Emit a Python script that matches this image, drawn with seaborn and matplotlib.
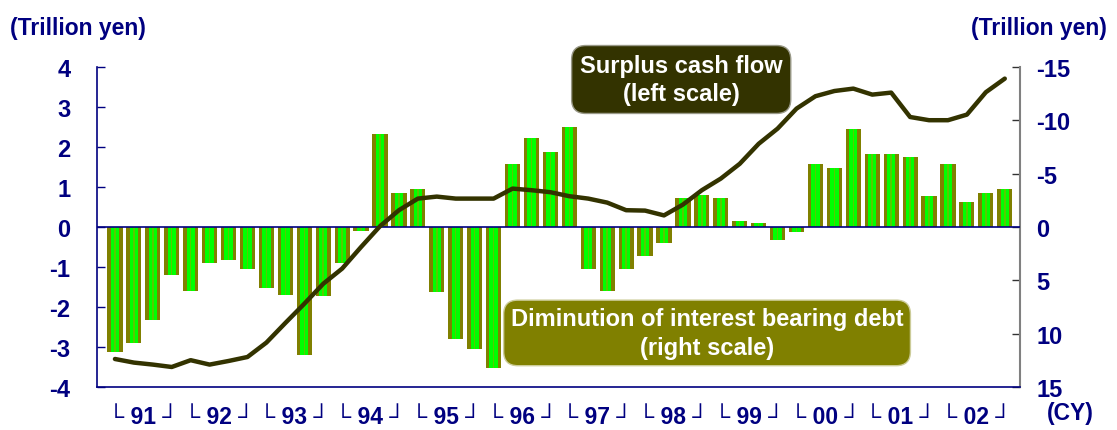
import numpy as np
import pandas as pd
import matplotlib
matplotlib.use("Agg")
import matplotlib.pyplot as plt
import seaborn as sns

# ---------------- data ----------------
years = ["91", "92", "93", "94", "95", "96", "97", "98", "99", "00", "01", "02"]
quarters = [f"{y}Q{q}" for y in years for q in range(1, 5)]

# Surplus cash flow (left scale, trillion yen)
surplus_cf = [-3.30, -3.39, -3.44, -3.50,
              -3.33, -3.44, -3.35, -3.25,
              -2.89, -2.40, -1.92, -1.42,
              -1.04, -0.50, 0.02, 0.42,
              0.71, 0.76, 0.71, 0.71,
              0.71, 0.96, 0.92, 0.87,
              0.77, 0.71, 0.61, 0.42,
              0.41, 0.29, 0.56, 0.92,
              1.21, 1.58, 2.08, 2.46,
              2.96, 3.27, 3.40, 3.46,
              3.31, 3.36, 2.75, 2.67,
              2.67, 2.81, 3.37, 3.71]

# Diminution of interest bearing debt (right scale, inverted axis, trillion yen)
debt_dim = [11.7, 10.9, 8.7, 4.5,
            6.0, 3.4, 3.1, 3.9,
            5.7, 6.4, 12.0, 6.5,
            3.4, 0.4, -8.7, -3.2,
            -3.6, 6.1, 10.5, 11.4,
            13.2, -5.9, -8.3, -7.0,
            -9.4, 3.9, 6.0, 3.9,
            2.7, 1.5, -2.7, -3.0,
            -2.7, -0.6, -0.4, 1.2,
            0.5, -5.9, -5.5, -9.2,
            -6.8, -6.8, -6.6, -2.9,
            -5.9, -2.3, -3.2, -3.6]

left_ticks = [-4, -3, -2, -1, 0, 1, 2, 3, 4]
right_ticks = [-15, -10, -5, 0, 5, 10, 15]
year_labels = [f"\u2514 {y} \u2518" for y in years]

df = pd.DataFrame({"quarter": quarters, "debt": debt_dim,
                   "pos": np.arange(len(quarters)), "surplus": surplus_cf})

# ---------------- style ----------------
sns.set_style("white")
plt.rcParams["font.family"] = ["Liberation Sans", "DejaVu Sans"]
plt.rcParams["axes.unicode_minus"] = False

NAVY = "#000080"
OLIVE = "#808000"
GREEN = "#00FF00"
DARK = "#333300"

fig = plt.figure(figsize=(11.17, 4.31), dpi=100)
ax = fig.add_axes([0.0868, 0.0998, 0.8263, 0.7424])
ax2 = ax.twinx()

# bars (right scale)
sns.barplot(data=df, x="quarter", y="debt", ax=ax2, color=OLIVE, saturation=1,
            width=0.8, errorbar=None, edgecolor="none")
sns.barplot(data=df, x="quarter", y="debt", ax=ax2, color=GREEN, saturation=1,
            width=0.44, errorbar=None, edgecolor="none")
sns.barplot(data=df, x="quarter", y="debt", ax=ax2, color="#55CC00", saturation=1,
            width=0.08, errorbar=None, edgecolor="none")
ax2.set_ylim(15, -15)
ax2.set_yticks(right_ticks)
ax2.set_ylabel("")
ax2.set_xlabel("")

# line (left scale)
sns.lineplot(data=df, x="pos", y="surplus", ax=ax, color=DARK, linewidth=3.2)
ax.axhline(0, color=NAVY, linewidth=1.2, zorder=1)
ax.set_ylim(-4, 4)
ax.set_yticks(left_ticks)
ax.set_xlim(-0.95, 47.8)
ax.set_xticks(np.arange(1.5, 48, 4))
ax.set_xticklabels(year_labels)
ax.set_xlabel("")
ax.set_ylabel("")

ax.set_zorder(ax2.get_zorder() + 1)
ax.patch.set_visible(False)

# spines
for s in ["top", "right"]:
    ax.spines[s].set_visible(False)
for s in ["left", "bottom"]:
    ax.spines[s].set_color(NAVY)
    ax.spines[s].set_linewidth(1.2)
for s in ["top", "left", "bottom"]:
    ax2.spines[s].set_visible(False)
ax2.spines["right"].set_color("#808080")
ax2.spines["right"].set_linewidth(1.5)

ax.tick_params(axis="y", direction="in", length=6, width=1, color=NAVY,
               labelsize=17, labelcolor=NAVY, pad=19, left=True)
ax.tick_params(axis="x", length=0, labelsize=16.5, labelcolor=NAVY, pad=13)
ax2.tick_params(axis="y", direction="in", length=6, width=1, color="#333333",
                labelsize=17, labelcolor=NAVY, pad=12, right=True)
for lab in ax.get_yticklabels() + ax.get_xticklabels() + ax2.get_yticklabels():
    lab.set_fontweight("bold")

# annotation boxes
ax.text(0.633, 0.961, "Surplus cash flow\n(left scale)", transform=ax.transAxes,
        ha="center", va="center", color="white", fontsize=17, fontweight="bold",
        linespacing=1.3, zorder=5,
        bbox=dict(boxstyle="round,pad=0.35,rounding_size=0.6", fc=DARK,
                  ec="#999988", lw=1))
ax.text(0.661, 0.169, "Diminution of interest bearing debt\n(right scale)",
        transform=ax.transAxes, ha="center", va="center", color="white",
        fontsize=17, fontweight="bold", linespacing=1.3, zorder=5,
        bbox=dict(boxstyle="round,pad=0.3,rounding_size=0.6", fc=OLIVE,
                  ec="#CCCC99", lw=1))

# unit labels
fig.text(0.009, 0.935, "(Trillion yen)", ha="left", va="center", color=NAVY,
         fontsize=16.5, fontweight="bold")
fig.text(0.991, 0.935, "(Trillion yen)", ha="right", va="center", color=NAVY,
         fontsize=16.5, fontweight="bold")
fig.text(0.958, 0.04, "(CY)", ha="center", va="center", color=NAVY,
         fontsize=16.5, fontweight="bold")

fig.savefig("out.png", dpi=100)
